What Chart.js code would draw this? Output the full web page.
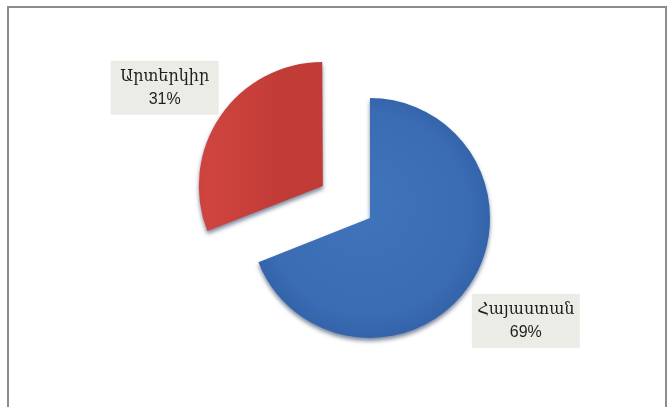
<!DOCTYPE html>
<html>
<head>
<meta charset="utf-8">
<script src="https://cdn.jsdelivr.net/npm/chart.js@4/dist/chart.umd.min.js"></script>
<style>
  html, body { margin: 0; padding: 0; background: #ffffff; }
  #wrap { position: relative; width: 671px; height: 407px; overflow: hidden; }
  #frame { position: absolute; left: 7px; top: 6px; width: 660px; height: 420px;
           border: 2px solid #8c8c8c; box-sizing: border-box; }
  canvas { position: absolute; left: 0; top: 0; }
</style>
</head>
<body>
<div id="wrap">
  <div id="frame"></div>
  <canvas id="c" width="671" height="407"></canvas>
</div>
<script>
// Share of respondents by location
const categories = ['Հայաստան', 'Արտերկիր'];
const shares = [69, 31];
const percentLabels = ['69%', '31%'];

// Slice pull-out (Chart.js arc offset units)
const sliceOffsets = [0, 228];

function sliceFill(ctx) {
  const c = ctx.chart;
  const a = c.chartArea;
  const i = ctx.dataIndex;
  if (!a) return i === 0 ? '#3b6db3' : '#cc423c';
  const cx = (a.left + a.right) / 2, cy = (a.top + a.bottom) / 2;
  if (i === 0) {
    const g = c.ctx.createRadialGradient(cx - 10, cy - 20, 10, cx, cy, 125);
    g.addColorStop(0, '#3f73ba');
    g.addColorStop(0.8, '#3a6cb3');
    g.addColorStop(1, '#3262a8');
    return g;
  }
  const g = c.ctx.createLinearGradient(cx - 170, 0, cx - 45, 0);
  g.addColorStop(0, '#c03a36');
  g.addColorStop(0.45, '#cf443e');
  g.addColorStop(1, '#c23c37');
  return g;
}

// Soft drop shadow under the slices for a bit of depth
const depthShadow = {
  id: 'depthShadow',
  beforeDatasetsDraw(chart) {
    const ctx = chart.ctx;
    ctx.save();
    ctx.shadowColor = 'rgba(15, 35, 75, 0.55)';
    ctx.shadowBlur = 4;
    ctx.shadowOffsetX = 0;
    ctx.shadowOffsetY = 3;
  },
  afterDatasetsDraw(chart) {
    chart.ctx.restore();
  }
};

// Boxed category / percentage labels placed outside each slice
const labelNudge = [[0, -3], [1, 10]];
const boxLabels = {
  id: 'boxLabels',
  afterDraw(chart) {
    const ctx = chart.ctx;
    const meta = chart.getDatasetMeta(0);
    meta.data.forEach((arc, i) => {
      const p = arc.getProps(['x', 'y', 'startAngle', 'endAngle', 'outerRadius'], true);
      const mid = (p.startAngle + p.endAngle) / 2;
      const off = (arc.options.offset || 0) / 4;
      const circ = p.endAngle - p.startAngle;
      const shift = off + off * (1 - Math.sin(Math.min(Math.PI, circ)));
      const dist = shift + p.outerRadius * 1.57;
      const lx = p.x + Math.cos(mid) * dist + labelNudge[i][0];
      const ly = p.y + Math.sin(mid) * dist + labelNudge[i][1];
      const w = 108, h = 54;
      ctx.save();
      ctx.fillStyle = '#ecece7';
      ctx.fillRect(lx - w / 2, ly - h / 2, w, h);
      ctx.fillStyle = '#1e1e1e';
      ctx.textAlign = 'center';
      ctx.textBaseline = 'middle';
      ctx.font = '16px "DejaVu Serif", serif';
      ctx.fillText(categories[i], lx, ly - 11);
      ctx.font = '16px "Liberation Sans", "DejaVu Sans", sans-serif';
      ctx.fillText(percentLabels[i], lx, ly + 12);
      ctx.restore();
    });
  }
};

new Chart(document.getElementById('c'), {
  type: 'pie',
  data: {
    labels: categories,
    datasets: [{
      data: shares,
      backgroundColor: sliceFill,
      borderWidth: 0,
      offset: sliceOffsets,
      hoverOffset: 0
    }]
  },
  options: {
    responsive: false,
    animation: false,
    radius: 120,
    layout: { padding: { left: 69, right: 0, top: 29, bottom: 0 } },
    plugins: {
      legend: { display: false },
      tooltip: { enabled: false }
    },
    events: []
  },
  plugins: [depthShadow, boxLabels]
});
</script>
</body>
</html>
